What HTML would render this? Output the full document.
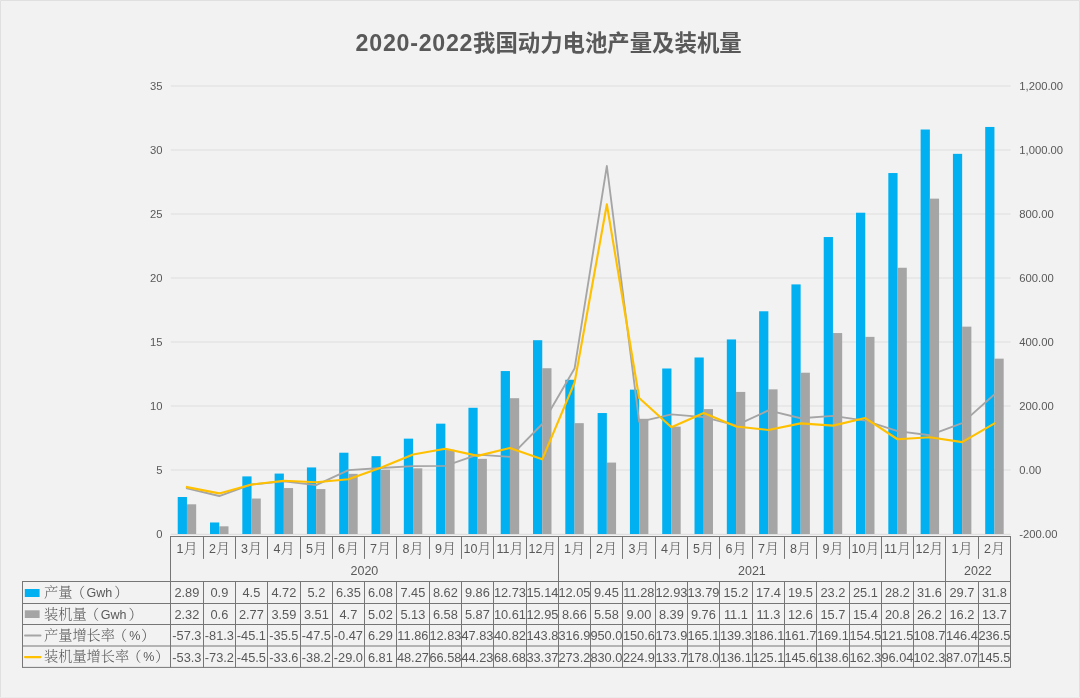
<!DOCTYPE html>
<html lang="zh-CN"><head><meta charset="utf-8"><title>2020-2022我国动力电池产量及装机量</title>
<style>
html,body{margin:0;padding:0;background:#f2f2f2;}
body{width:1080px;height:698px;overflow:hidden;position:relative;}
svg{display:block;position:absolute;left:0;top:0;}
.lat{font-family:"Liberation Sans","Noto Sans CJK SC",sans-serif;}
.ser{font-family:"Liberation Sans","Noto Serif CJK SC",serif;}
.ttl{font-family:"Liberation Sans","Noto Sans CJK SC",sans-serif;font-weight:bold;}
text{fill:#595959;}
.l{font-size:12.5px;font-weight:400;}
</style></head><body>
<svg width="1080" height="698" viewBox="0 0 1080 698">
<rect x="0" y="0" width="1080" height="698" fill="#f2f2f2"/>
<path d="M0.5 698 V0.5 H1079.5 V698" fill="none" stroke="#e0e0e0" stroke-width="1"/>
<line x1="0" y1="697.5" x2="1080" y2="697.5" stroke="#ebebeb" stroke-width="1"/>
<g stroke="#dedede" stroke-width="1.1">
<line x1="170.8" y1="470.0" x2="1010.6" y2="470.0"/>
<line x1="170.8" y1="406.0" x2="1010.6" y2="406.0"/>
<line x1="170.8" y1="342.0" x2="1010.6" y2="342.0"/>
<line x1="170.8" y1="278.0" x2="1010.6" y2="278.0"/>
<line x1="170.8" y1="214.0" x2="1010.6" y2="214.0"/>
<line x1="170.8" y1="150.0" x2="1010.6" y2="150.0"/>
<line x1="170.8" y1="86.0" x2="1010.6" y2="86.0"/>
</g>
<line x1="170.8" y1="534.3" x2="1010.6" y2="534.3" stroke="#dfdfdf" stroke-width="1.3"/>
<g fill="#00b0f0">
<rect x="177.72" y="497.01" width="9.23" height="36.99"/>
<rect x="210.02" y="522.48" width="9.23" height="11.52"/>
<rect x="242.32" y="476.40" width="9.23" height="57.60"/>
<rect x="274.62" y="473.58" width="9.23" height="60.42"/>
<rect x="306.92" y="467.44" width="9.23" height="66.56"/>
<rect x="339.22" y="452.72" width="9.23" height="81.28"/>
<rect x="371.52" y="456.18" width="9.23" height="77.82"/>
<rect x="403.82" y="438.64" width="9.23" height="95.36"/>
<rect x="436.12" y="423.66" width="9.23" height="110.34"/>
<rect x="468.42" y="407.79" width="9.23" height="126.21"/>
<rect x="500.72" y="371.06" width="9.23" height="162.94"/>
<rect x="533.02" y="340.21" width="9.23" height="193.79"/>
<rect x="565.32" y="379.76" width="9.23" height="154.24"/>
<rect x="597.62" y="413.04" width="9.23" height="120.96"/>
<rect x="629.92" y="389.62" width="9.23" height="144.38"/>
<rect x="662.22" y="368.50" width="9.23" height="165.50"/>
<rect x="694.52" y="357.49" width="9.23" height="176.51"/>
<rect x="726.82" y="339.44" width="9.23" height="194.56"/>
<rect x="759.12" y="311.28" width="9.23" height="222.72"/>
<rect x="791.42" y="284.40" width="9.23" height="249.60"/>
<rect x="823.72" y="237.04" width="9.23" height="296.96"/>
<rect x="856.02" y="212.72" width="9.23" height="321.28"/>
<rect x="888.32" y="173.04" width="9.23" height="360.96"/>
<rect x="920.62" y="129.52" width="9.23" height="404.48"/>
<rect x="952.92" y="153.84" width="9.23" height="380.16"/>
<rect x="985.22" y="126.96" width="9.23" height="407.04"/>
</g>
<g fill="#a5a5a5">
<rect x="186.95" y="504.30" width="9.23" height="29.70"/>
<rect x="219.25" y="526.32" width="9.23" height="7.68"/>
<rect x="251.55" y="498.54" width="9.23" height="35.46"/>
<rect x="283.85" y="488.05" width="9.23" height="45.95"/>
<rect x="316.15" y="489.07" width="9.23" height="44.93"/>
<rect x="348.45" y="473.84" width="9.23" height="60.16"/>
<rect x="380.75" y="469.74" width="9.23" height="64.26"/>
<rect x="413.05" y="468.34" width="9.23" height="65.66"/>
<rect x="445.35" y="449.78" width="9.23" height="84.22"/>
<rect x="477.65" y="458.86" width="9.23" height="75.14"/>
<rect x="509.95" y="398.19" width="9.23" height="135.81"/>
<rect x="542.25" y="368.24" width="9.23" height="165.76"/>
<rect x="574.55" y="423.15" width="9.23" height="110.85"/>
<rect x="606.85" y="462.58" width="9.23" height="71.42"/>
<rect x="639.15" y="418.80" width="9.23" height="115.20"/>
<rect x="671.45" y="426.61" width="9.23" height="107.39"/>
<rect x="703.75" y="409.07" width="9.23" height="124.93"/>
<rect x="736.05" y="391.92" width="9.23" height="142.08"/>
<rect x="768.35" y="389.36" width="9.23" height="144.64"/>
<rect x="800.65" y="372.72" width="9.23" height="161.28"/>
<rect x="832.95" y="333.04" width="9.23" height="200.96"/>
<rect x="865.25" y="336.88" width="9.23" height="197.12"/>
<rect x="897.55" y="267.76" width="9.23" height="266.24"/>
<rect x="929.85" y="198.64" width="9.23" height="335.36"/>
<rect x="962.15" y="326.64" width="9.23" height="207.36"/>
<rect x="994.45" y="358.64" width="9.23" height="175.36"/>
</g>
<polyline points="186.95,488.34 219.25,496.02 251.55,484.43 283.85,481.36 316.15,485.20 348.45,470.15 380.75,467.99 413.05,466.20 445.35,465.89 477.65,454.69 509.95,456.94 542.25,423.98 574.55,368.59 606.85,166.00 639.15,421.81 671.45,414.35 703.75,417.17 736.05,425.42 768.35,410.45 800.65,418.26 832.95,415.89 865.25,420.56 897.55,431.12 929.85,435.22 962.15,423.15 994.45,394.32" fill="none" stroke="#a5a5a5" stroke-width="1.85" stroke-linejoin="round" stroke-linecap="square"/>
<polyline points="186.95,487.06 219.25,493.42 251.55,484.56 283.85,480.75 316.15,482.22 348.45,479.28 380.75,467.82 413.05,454.55 445.35,448.69 477.65,455.85 509.95,448.02 542.25,459.32 574.55,382.58 606.85,204.40 639.15,398.03 671.45,427.22 703.75,413.04 736.05,426.45 768.35,429.97 800.65,423.41 832.95,425.65 865.25,418.06 897.55,439.27 929.85,437.26 962.15,442.14 994.45,423.44" fill="none" stroke="#ffc000" stroke-width="2.15" stroke-linejoin="round" stroke-linecap="square"/>
<text class="ttl" x="355.6" y="50.6" font-size="22.4"><tspan font-size="23.2" letter-spacing="0.75">2020-2022</tspan><tspan x="473" y="51.4" letter-spacing="0">我国动力电池产量及装机量</tspan></text>
<g class="lat" font-size="11.25" text-anchor="end">
<text x="162.4" y="538.0">0</text>
<text x="162.4" y="474.0">5</text>
<text x="162.4" y="410.0">10</text>
<text x="162.4" y="346.0">15</text>
<text x="162.4" y="282.0">20</text>
<text x="162.4" y="218.0">25</text>
<text x="162.4" y="154.0">30</text>
<text x="162.4" y="90.0">35</text>
</g>
<g class="lat" font-size="11.25">
<text x="1019.3" y="538.0">-200.00</text>
<text x="1019.3" y="474.0">0.00</text>
<text x="1019.3" y="410.0">200.00</text>
<text x="1019.3" y="346.0">400.00</text>
<text x="1019.3" y="282.0">600.00</text>
<text x="1019.3" y="218.0">800.00</text>
<text x="1019.3" y="154.0">1,000.00</text>
<text x="1019.3" y="90.0">1,200.00</text>
</g>
<g stroke="#767676" stroke-width="1.0" fill="none">
<line x1="170.0" y1="536.5" x2="1011.0" y2="536.5"/>
<line x1="22.0" y1="581.5" x2="1011.0" y2="581.5"/>
<line x1="22.0" y1="603.5" x2="1011.0" y2="603.5"/>
<line x1="22.0" y1="624.5" x2="1011.0" y2="624.5"/>
<line x1="22.0" y1="646.0" x2="1011.0" y2="646.0"/>
<line x1="22.0" y1="667.4" x2="1011.0" y2="667.4"/>
<line x1="22.5" y1="581.5" x2="22.5" y2="667.4"/>
<line x1="170.50" y1="536.5" x2="170.50" y2="667.4"/>
<line x1="203.50" y1="536.5" x2="203.50" y2="558.9"/>
<line x1="203.50" y1="581.5" x2="203.50" y2="667.4"/>
<line x1="235.50" y1="536.5" x2="235.50" y2="558.9"/>
<line x1="235.50" y1="581.5" x2="235.50" y2="667.4"/>
<line x1="267.50" y1="536.5" x2="267.50" y2="558.9"/>
<line x1="267.50" y1="581.5" x2="267.50" y2="667.4"/>
<line x1="300.50" y1="536.5" x2="300.50" y2="558.9"/>
<line x1="300.50" y1="581.5" x2="300.50" y2="667.4"/>
<line x1="332.50" y1="536.5" x2="332.50" y2="558.9"/>
<line x1="332.50" y1="581.5" x2="332.50" y2="667.4"/>
<line x1="364.50" y1="536.5" x2="364.50" y2="558.9"/>
<line x1="364.50" y1="581.5" x2="364.50" y2="667.4"/>
<line x1="396.50" y1="536.5" x2="396.50" y2="558.9"/>
<line x1="396.50" y1="581.5" x2="396.50" y2="667.4"/>
<line x1="429.50" y1="536.5" x2="429.50" y2="558.9"/>
<line x1="429.50" y1="581.5" x2="429.50" y2="667.4"/>
<line x1="461.50" y1="536.5" x2="461.50" y2="558.9"/>
<line x1="461.50" y1="581.5" x2="461.50" y2="667.4"/>
<line x1="493.50" y1="536.5" x2="493.50" y2="558.9"/>
<line x1="493.50" y1="581.5" x2="493.50" y2="667.4"/>
<line x1="526.50" y1="536.5" x2="526.50" y2="558.9"/>
<line x1="526.50" y1="581.5" x2="526.50" y2="667.4"/>
<line x1="558.50" y1="536.5" x2="558.50" y2="667.4"/>
<line x1="590.50" y1="536.5" x2="590.50" y2="558.9"/>
<line x1="590.50" y1="581.5" x2="590.50" y2="667.4"/>
<line x1="622.50" y1="536.5" x2="622.50" y2="558.9"/>
<line x1="622.50" y1="581.5" x2="622.50" y2="667.4"/>
<line x1="655.50" y1="536.5" x2="655.50" y2="558.9"/>
<line x1="655.50" y1="581.5" x2="655.50" y2="667.4"/>
<line x1="687.50" y1="536.5" x2="687.50" y2="558.9"/>
<line x1="687.50" y1="581.5" x2="687.50" y2="667.4"/>
<line x1="719.50" y1="536.5" x2="719.50" y2="558.9"/>
<line x1="719.50" y1="581.5" x2="719.50" y2="667.4"/>
<line x1="752.50" y1="536.5" x2="752.50" y2="558.9"/>
<line x1="752.50" y1="581.5" x2="752.50" y2="667.4"/>
<line x1="784.50" y1="536.5" x2="784.50" y2="558.9"/>
<line x1="784.50" y1="581.5" x2="784.50" y2="667.4"/>
<line x1="816.50" y1="536.5" x2="816.50" y2="558.9"/>
<line x1="816.50" y1="581.5" x2="816.50" y2="667.4"/>
<line x1="849.50" y1="536.5" x2="849.50" y2="558.9"/>
<line x1="849.50" y1="581.5" x2="849.50" y2="667.4"/>
<line x1="881.50" y1="536.5" x2="881.50" y2="558.9"/>
<line x1="881.50" y1="581.5" x2="881.50" y2="667.4"/>
<line x1="913.50" y1="536.5" x2="913.50" y2="558.9"/>
<line x1="913.50" y1="581.5" x2="913.50" y2="667.4"/>
<line x1="945.50" y1="536.5" x2="945.50" y2="667.4"/>
<line x1="978.50" y1="536.5" x2="978.50" y2="558.9"/>
<line x1="978.50" y1="581.5" x2="978.50" y2="667.4"/>
<line x1="1010.50" y1="536.5" x2="1010.50" y2="667.4"/>
</g>
<g class="ser" font-size="12.5" text-anchor="middle">
<text x="187.00" y="553">1<tspan font-size="14.2" font-weight="300">月</tspan></text>
<text x="219.50" y="553">2<tspan font-size="14.2" font-weight="300">月</tspan></text>
<text x="251.50" y="553">3<tspan font-size="14.2" font-weight="300">月</tspan></text>
<text x="284.00" y="553">4<tspan font-size="14.2" font-weight="300">月</tspan></text>
<text x="316.50" y="553">5<tspan font-size="14.2" font-weight="300">月</tspan></text>
<text x="348.50" y="553">6<tspan font-size="14.2" font-weight="300">月</tspan></text>
<text x="380.50" y="553">7<tspan font-size="14.2" font-weight="300">月</tspan></text>
<text x="413.00" y="553">8<tspan font-size="14.2" font-weight="300">月</tspan></text>
<text x="445.50" y="553">9<tspan font-size="14.2" font-weight="300">月</tspan></text>
<text x="477.50" y="553">10<tspan font-size="14.2" font-weight="300">月</tspan></text>
<text x="510.00" y="553">11<tspan font-size="14.2" font-weight="300">月</tspan></text>
<text x="542.50" y="553">12<tspan font-size="14.2" font-weight="300">月</tspan></text>
<text x="574.50" y="553">1<tspan font-size="14.2" font-weight="300">月</tspan></text>
<text x="606.50" y="553">2<tspan font-size="14.2" font-weight="300">月</tspan></text>
<text x="639.00" y="553">3<tspan font-size="14.2" font-weight="300">月</tspan></text>
<text x="671.50" y="553">4<tspan font-size="14.2" font-weight="300">月</tspan></text>
<text x="703.50" y="553">5<tspan font-size="14.2" font-weight="300">月</tspan></text>
<text x="736.00" y="553">6<tspan font-size="14.2" font-weight="300">月</tspan></text>
<text x="768.50" y="553">7<tspan font-size="14.2" font-weight="300">月</tspan></text>
<text x="800.50" y="553">8<tspan font-size="14.2" font-weight="300">月</tspan></text>
<text x="833.00" y="553">9<tspan font-size="14.2" font-weight="300">月</tspan></text>
<text x="865.50" y="553">10<tspan font-size="14.2" font-weight="300">月</tspan></text>
<text x="897.50" y="553">11<tspan font-size="14.2" font-weight="300">月</tspan></text>
<text x="929.50" y="553">12<tspan font-size="14.2" font-weight="300">月</tspan></text>
<text x="962.00" y="553">1<tspan font-size="14.2" font-weight="300">月</tspan></text>
<text x="994.50" y="553">2<tspan font-size="14.2" font-weight="300">月</tspan></text>
</g>
<g class="lat" font-size="12.5" text-anchor="middle">
<text x="364.40" y="575.1">2020</text>
<text x="751.90" y="575.1">2021</text>
<text x="977.90" y="575.1">2022</text>
</g>
<g class="lat" font-size="12.8" text-anchor="middle">
<text x="186.90" y="597.0">2.89</text>
<text x="219.40" y="597.0">0.9</text>
<text x="251.40" y="597.0">4.5</text>
<text x="283.90" y="597.0">4.72</text>
<text x="316.40" y="597.0">5.2</text>
<text x="348.40" y="597.0">6.35</text>
<text x="380.40" y="597.0">6.08</text>
<text x="412.90" y="597.0">7.45</text>
<text x="445.40" y="597.0">8.62</text>
<text x="477.40" y="597.0">9.86</text>
<text x="509.90" y="597.0">12.73</text>
<text x="542.40" y="597.0">15.14</text>
<text x="574.40" y="597.0">12.05</text>
<text x="606.40" y="597.0">9.45</text>
<text x="638.90" y="597.0">11.28</text>
<text x="671.40" y="597.0">12.93</text>
<text x="703.40" y="597.0">13.79</text>
<text x="735.90" y="597.0">15.2</text>
<text x="768.40" y="597.0">17.4</text>
<text x="800.40" y="597.0">19.5</text>
<text x="832.90" y="597.0">23.2</text>
<text x="865.40" y="597.0">25.1</text>
<text x="897.40" y="597.0">28.2</text>
<text x="929.40" y="597.0">31.6</text>
<text x="961.90" y="597.0">29.7</text>
<text x="994.40" y="597.0">31.8</text>
<text x="186.90" y="619.0">2.32</text>
<text x="219.40" y="619.0">0.6</text>
<text x="251.40" y="619.0">2.77</text>
<text x="283.90" y="619.0">3.59</text>
<text x="316.40" y="619.0">3.51</text>
<text x="348.40" y="619.0">4.7</text>
<text x="380.40" y="619.0">5.02</text>
<text x="412.90" y="619.0">5.13</text>
<text x="445.40" y="619.0">6.58</text>
<text x="477.40" y="619.0">5.87</text>
<text x="509.90" y="619.0">10.61</text>
<text x="542.40" y="619.0">12.95</text>
<text x="574.40" y="619.0">8.66</text>
<text x="606.40" y="619.0">5.58</text>
<text x="638.90" y="619.0">9.00</text>
<text x="671.40" y="619.0">8.39</text>
<text x="703.40" y="619.0">9.76</text>
<text x="735.90" y="619.0">11.1</text>
<text x="768.40" y="619.0">11.3</text>
<text x="800.40" y="619.0">12.6</text>
<text x="832.90" y="619.0">15.7</text>
<text x="865.40" y="619.0">15.4</text>
<text x="897.40" y="619.0">20.8</text>
<text x="929.40" y="619.0">26.2</text>
<text x="961.90" y="619.0">16.2</text>
<text x="994.40" y="619.0">13.7</text>
<text x="186.90" y="640.0">-57.3</text>
<text x="219.40" y="640.0">-81.3</text>
<text x="251.40" y="640.0">-45.1</text>
<text x="283.90" y="640.0">-35.5</text>
<text x="316.40" y="640.0">-47.5</text>
<text x="348.40" y="640.0">-0.47</text>
<text x="380.40" y="640.0">6.29</text>
<text x="412.90" y="640.0">11.86</text>
<text x="445.40" y="640.0">12.83</text>
<text x="477.40" y="640.0">47.83</text>
<text x="509.90" y="640.0">40.82</text>
<text x="542.40" y="640.0">143.8</text>
<text x="574.40" y="640.0">316.9</text>
<text x="606.40" y="640.0">950.0</text>
<text x="638.90" y="640.0">150.6</text>
<text x="671.40" y="640.0">173.9</text>
<text x="703.40" y="640.0">165.1</text>
<text x="735.90" y="640.0">139.3</text>
<text x="768.40" y="640.0">186.1</text>
<text x="800.40" y="640.0">161.7</text>
<text x="832.90" y="640.0">169.1</text>
<text x="865.40" y="640.0">154.5</text>
<text x="897.40" y="640.0">121.5</text>
<text x="929.40" y="640.0">108.7</text>
<text x="961.90" y="640.0">146.4</text>
<text x="994.40" y="640.0">236.5</text>
<text x="186.90" y="661.5">-53.3</text>
<text x="219.40" y="661.5">-73.2</text>
<text x="251.40" y="661.5">-45.5</text>
<text x="283.90" y="661.5">-33.6</text>
<text x="316.40" y="661.5">-38.2</text>
<text x="348.40" y="661.5">-29.0</text>
<text x="380.40" y="661.5">6.81</text>
<text x="412.90" y="661.5">48.27</text>
<text x="445.40" y="661.5">66.58</text>
<text x="477.40" y="661.5">44.23</text>
<text x="509.90" y="661.5">68.68</text>
<text x="542.40" y="661.5">33.37</text>
<text x="574.40" y="661.5">273.2</text>
<text x="606.40" y="661.5">830.0</text>
<text x="638.90" y="661.5">224.9</text>
<text x="671.40" y="661.5">133.7</text>
<text x="703.40" y="661.5">178.0</text>
<text x="735.90" y="661.5">136.1</text>
<text x="768.40" y="661.5">125.1</text>
<text x="800.40" y="661.5">145.6</text>
<text x="832.90" y="661.5">138.6</text>
<text x="865.40" y="661.5">162.3</text>
<text x="897.40" y="661.5">96.04</text>
<text x="929.40" y="661.5">102.3</text>
<text x="961.90" y="661.5">87.07</text>
<text x="994.40" y="661.5">145.5</text>
</g>
<rect x="24.8" y="589" width="14.8" height="8" fill="#00b0f0"/>
<rect x="24.8" y="610.3" width="14.8" height="7.7" fill="#a5a5a5"/>
<line x1="25" y1="635.5" x2="40.5" y2="635.5" stroke="#a5a5a5" stroke-width="2" stroke-linecap="round"/>
<line x1="25" y1="657.1" x2="40.5" y2="657.1" stroke="#ffc000" stroke-width="2.2" stroke-linecap="round"/>
<g class="ser" font-size="14.2" font-weight="300">
<text x="44" y="596.8">产量<tspan dx="-1.5">（</tspan><tspan class="l" dx="1.5">Gwh</tspan><tspan dx="2">）</tspan></text>
<text x="44" y="618.8">装机量<tspan dx="-1.5">（</tspan><tspan class="l" dx="1.5">Gwh</tspan><tspan dx="2">）</tspan></text>
<text x="44" y="639.8">产量增长率<tspan dx="-2">（</tspan><tspan class="l" dx="2">%</tspan><tspan dx="0.6">）</tspan></text>
<text x="44" y="661.3">装机量增长率<tspan dx="-2">（</tspan><tspan class="l" dx="2">%</tspan><tspan dx="0.6">）</tspan></text>
</g>
</svg></body></html>
